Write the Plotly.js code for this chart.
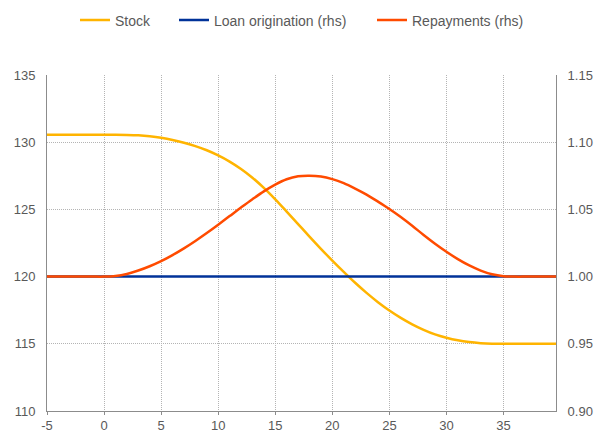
<!DOCTYPE html>
<html>
<head>
<meta charset="utf-8">
<script src="https://cdn.plot.ly/plotly-3.0.1.min.js"></script>
<style>html,body{margin:0;padding:0;background:#fff;}#chart{width:598px;height:432px;}</style>
</head>
<body>
<div id="chart"></div>
<script>
var xValues = [-5,-4,-3,-2,-1,0,1,2,3,4,5,6,7,8,9,10,11,12,13,14,15,16,17,18,19,20,21,22,23,24,25,26,27,28,29,30,31,32,33,34,35,36,37,38,39,40];
var stock = [130.55,130.55,130.55,130.55,130.55,130.55,130.55,130.54,130.51,130.44,130.33,130.17,129.96,129.71,129.40,129.02,128.56,128.01,127.36,126.60,125.75,124.84,123.91,122.98,122.07,121.19,120.35,119.54,118.79,118.10,117.48,116.93,116.45,116.04,115.70,115.45,115.26,115.13,115.05,115.01,115.0,115.0,115.0,115.0,115.0,115.0];
var loanOrigination = [1.0,1.0,1.0,1.0,1.0,1.0,1.0,1.0,1.0,1.0,1.0,1.0,1.0,1.0,1.0,1.0,1.0,1.0,1.0,1.0,1.0,1.0,1.0,1.0,1.0,1.0,1.0,1.0,1.0,1.0,1.0,1.0,1.0,1.0,1.0,1.0,1.0,1.0,1.0,1.0,1.0,1.0,1.0,1.0,1.0,1.0];
var repayments = [1.0,1.0,1.0,1.0,1.0,1.0,1.0005,1.002,1.0045,1.0077,1.0115,1.016,1.021,1.0265,1.0324,1.0386,1.045,1.0514,1.0576,1.0634,1.0684,1.0724,1.0746,1.075,1.0744,1.0725,1.0695,1.0655,1.061,1.0558,1.0503,1.0443,1.0378,1.031,1.0245,1.0185,1.013,1.0083,1.0045,1.0017,1.0003,1.0,1.0,1.0,1.0,1.0];
var seriesNames = ["Stock","Loan origination (rhs)","Repayments (rhs)"];
var xTicks = [-5,0,5,10,15,20,25,30,35];

var fontFam = "Liberation Sans, Arial, sans-serif";
var txtColor = "#595959";

var traces = [
  {x:xValues, y:stock, name:seriesNames[0], type:"scatter", mode:"lines", line:{color:"#FFB400", width:2.5, shape:"spline", smoothing:1}, yaxis:"y", legend:"legend"},
  {x:xValues, y:loanOrigination, name:seriesNames[1], type:"scatter", mode:"lines", line:{color:"#003299", width:2.5}, yaxis:"y2", legend:"legend2"},
  {x:xValues, y:repayments, name:seriesNames[2], type:"scatter", mode:"lines", line:{color:"#FF4B00", width:2.5, shape:"spline", smoothing:1}, yaxis:"y2", legend:"legend3"}
];

function leg(px) {
  return {orientation:"h", xref:"container", yref:"container", x:px/598, xanchor:"left", y:1-20.5/432, yanchor:"middle", font:{size:14, color:txtColor}, bgcolor:"rgba(0,0,0,0)", borderwidth:0};
}

var gridStyle = {showgrid:true, gridcolor:"#b4b4b4", griddash:"1px,1px", gridwidth:1};

var layout = {
  width:598, height:432,
  margin:{l:47, r:42, t:75, b:21, pad:0},
  paper_bgcolor:"#fff", plot_bgcolor:"#fff",
  font:{family:fontFam, size:13, color:txtColor},
  showlegend:true,
  legend:leg(75),
  legend2:leg(174),
  legend3:leg(372),
  xaxis:Object.assign({range:[-5,39.6], tickvals:xTicks, ticktext:xTicks.map(String), showline:true, linecolor:"#8c8c8c", linewidth:1, ticks:"outside", ticklen:3, tickcolor:"#8c8c8c", zeroline:false, ticklabelstandoff:-1, tickfont:{size:13, color:txtColor}}, gridStyle),
  yaxis:Object.assign({range:[110,135], dtick:5, tick0:110, showline:true, linecolor:"#8c8c8c", linewidth:1, ticks:"", zeroline:false, ticklabelstandoff:8, tickfont:{size:13, color:txtColor}}, gridStyle),
  yaxis2:{range:[0.9,1.15], dtick:0.05, tick0:0.9, tickformat:".2f", overlaying:"y", side:"right", showgrid:false, showline:true, linecolor:"#8c8c8c", linewidth:1, ticks:"", zeroline:false, ticklabelstandoff:8, tickfont:{size:13, color:txtColor}}
};

Plotly.newPlot("chart", traces, layout, {displayModeBar:false, staticPlot:true});
</script>
</body>
</html>
